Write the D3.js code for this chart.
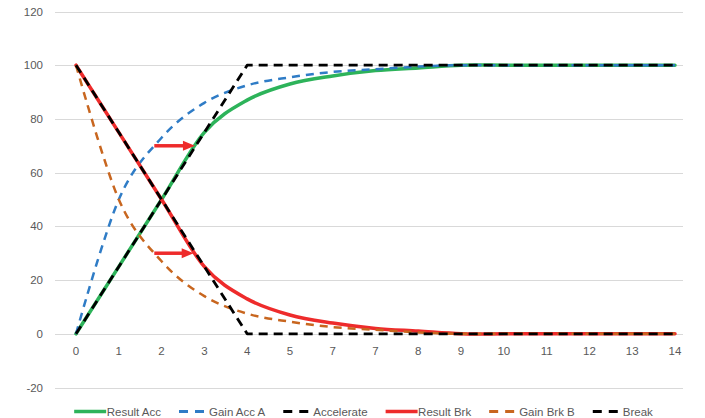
<!DOCTYPE html>
<html><head><meta charset="utf-8">
<script src="https://cdn.jsdelivr.net/npm/d3@7"></script>
<style>html,body{margin:0;padding:0;background:#fff;}svg{display:block;}</style>
</head><body>
<svg id="c" width="705" height="418"></svg>
<script>
const xValues = [0,1,2,3,4,5,6,7,8,9,10,11,12,13,14];
const xLabels = ["0","1","2","3","4","5","7","7","8","9","10","11","12","13","14"];
const yTicks = [-20,0,20,40,60,80,100,120];
const resultAcc = [0,25,50,75,87,93,96,98,99,100,100,100,100,100,100];
const gainAccA = [0,50,73,86,92.5,95.5,97.5,98.5,99.5,100,100,100,100,100,100];
const accelerate = [0,25,50,75,100,100,100,100,100,100,100,100,100,100,100];
const resultBrk = [100,75,50,25,13,7,4,2,1,0,0,0,0,0,0];
const gainBrkB = [100,50,27,14,7.5,4.5,2.5,1.5,0.5,0,0,0,0,0,0];
const breakS = [100,75,50,25,0,0,0,0,0,0,0,0,0,0,0];
const seriesNames = ["Result Acc","Gain Acc A","Accelerate","Result Brk","Gain Brk B","Break"];
const arrowStart = [1.83, 1.83];
const arrowEnd = [2.78, 2.75];
const arrowLevel = [70, 30];

const svg = d3.select("#c");
const x = d3.scaleLinear().domain([0,14]).range([76,675]);
const y = d3.scaleLinear().domain([-20,120]).range([387.5,11.5]);
const gridX0 = 55, gridX1 = 683;

const series = [
  {name: seriesNames[0], data: resultAcc, color:"#2db35a", w:3.5, dash:null, smooth:true},
  {name: seriesNames[1], data: gainAccA, color:"#2f7cc6", w:2.5, dash:"8,6", smooth:true},
  {name: seriesNames[2], data: accelerate, color:"#000000", w:2.8, dash:"9,6", smooth:false},
  {name: seriesNames[3], data: resultBrk, color:"#ee2b2b", w:3.5, dash:null, smooth:true},
  {name: seriesNames[4], data: gainBrkB, color:"#c8661f", w:2.5, dash:"8,6", smooth:true},
  {name: seriesNames[5], data: breakS, color:"#000000", w:2.8, dash:"9,6", smooth:false}
];

// gridlines
svg.append("g").selectAll("line").data(yTicks).join("line")
  .attr("x1", gridX0).attr("x2", gridX1)
  .attr("y1", d => Math.round(y(d))+0.5).attr("y2", d => Math.round(y(d))+0.5)
  .attr("stroke", "#d9d9d9").attr("stroke-width", 1);

const font = "'Liberation Sans', Arial, sans-serif";
// y labels
svg.append("g").selectAll("text").data(yTicks).join("text")
  .attr("x", 43).attr("y", d => y(d)).attr("dy", "0.35em")
  .attr("text-anchor", "end").attr("font-family", font).attr("font-size", "11.5px")
  .attr("fill", "#595959").text(d => d);
// x labels
svg.append("g").selectAll("text").data(xValues).join("text")
  .attr("x", d => x(d)).attr("y", 354.5)
  .attr("text-anchor", "middle").attr("font-family", font).attr("font-size", "11.5px")
  .attr("fill", "#595959").text((d,i) => xLabels[i]);

// lines
series.forEach(s => {
  const line = d3.line().x((d,i) => x(xValues[i])).y(d => y(d))
    .curve(s.smooth ? d3.curveCardinal.tension(0) : d3.curveLinear);
  svg.append("path").datum(s.data).attr("d", line)
    .attr("fill", "none").attr("stroke", s.color).attr("stroke-width", s.w)
    .attr("stroke-dasharray", s.dash).attr("stroke-linejoin", "round")
    .attr("stroke-linecap", s.dash ? "butt" : "round");
});

// arrows
arrowLevel.forEach((lv, i) => {
  const x0 = x(arrowStart[i]), x1 = x(arrowEnd[i]), yy = y(lv);
  svg.append("line").attr("x1", x0).attr("x2", x1 - 10).attr("y1", yy).attr("y2", yy)
    .attr("stroke", "#ee2b2b").attr("stroke-width", 3.5);
  svg.append("path").attr("d", `M${x1},${yy} L${x1-12},${yy-5} L${x1-12},${yy+5} Z`)
    .attr("fill", "#ee2b2b");
});

// legend
const lg = svg.append("g");
const items = [];
series.forEach(s => {
  const g = lg.append("g");
  const solid = !s.dash;
  const len = solid ? 32 : 25;
  g.append("line").attr("x1", 0).attr("x2", len).attr("y1", 0).attr("y2", 0)
    .attr("stroke", s.color).attr("stroke-width", solid ? 3.5 : 2.8)
    .attr("stroke-dasharray", solid ? null : "9,7");
  const t = g.append("text").attr("x", len + (solid ? 0.5 : 5)).attr("y", 0).attr("dy", "0.35em")
    .attr("font-family", font).attr("font-size", "11.5px").attr("fill", "#595959").text(s.name);
  const w = len + (solid ? 0.5 : 5) + t.node().getComputedTextLength();
  items.push({g, w});
});
const gap = 18;
const total = d3.sum(items, d => d.w) + gap * (items.length - 1);
let start = 363.5 - total / 2;
items.forEach(it => { it.g.attr("transform", `translate(${start},411.5)`); start += it.w + gap; });
</script>
</body></html>
